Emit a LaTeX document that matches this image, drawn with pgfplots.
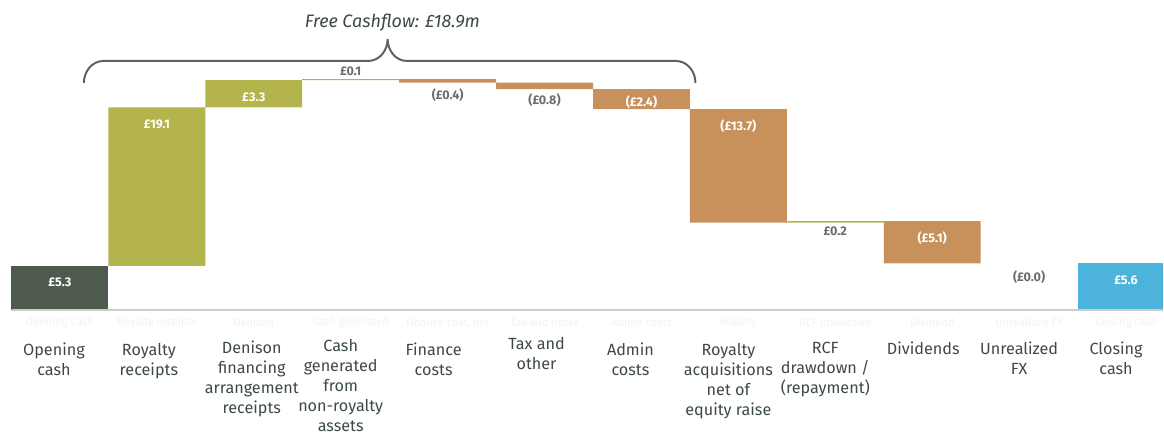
\documentclass[border=0pt]{standalone}
\usepackage{pgfplots}
\pgfplotsset{compat=1.18}
\usepackage{pgfplotstable}
\usepackage{fontspec}
\setmainfont{Fira Sans}
\definecolor{darkc}{HTML}{4F5A4F}
\definecolor{olivec}{HTML}{B4B44C}
\definecolor{orangec}{HTML}{C8915B}
\definecolor{bluec}{HTML}{4BB3DC}
\definecolor{labc}{HTML}{3D4A42}
\definecolor{valc}{HTML}{6A6E6A}
\definecolor{bracec}{HTML}{5A655A}

\tikzset{
  cat/.style={anchor=north, align=center, inner sep=0pt, text=labc, font=\fontsize{8.1}{10}\selectfont},
  wv/.style={text=white, inner sep=0pt, font=\fontsize{6.3}{7}\selectfont\bfseries},
  gv/.style={text=valc, inner sep=0pt, font=\fontsize{6.3}{7}\selectfont\bfseries},
  fd/.style={text=black!5, inner sep=0pt, font=\fontsize{5.5}{6}\selectfont},
}

\pgfplotstableread{
x base dark olive orange blue
0 0    5.3 0    0    0
1 5.3  0   19.1 0    0
2 24.4 0   3.3  0    0
3 27.7 0   0.1  0    0
4 27.4 0   0    0.4  0
5 26.6 0   0    0.8  0
6 24.2 0   0    2.4  0
7 10.5 0   0    13.7 0
8 10.5 0   0.2  0    0
9 5.6  0   0    5.1  0
10 5.6 0   0    0    0
11 0   0   0    0    5.6
}\wf

\begin{document}
\begin{tikzpicture}
\begin{axis}[
  x=48.5pt, y=4.15pt,
  xmin=-0.61856, xmax=11.38144,
  ymin=-14.9398, ymax=37.3494,
  hide axis,
  clip mode=individual,
  ybar stacked, bar width=1,
  every axis plot/.append style={draw=none},
]
\path (axis cs:-0.61856,-14.9398) rectangle (axis cs:11.38144,37.3494);
\draw[line width=1pt, black!20] (axis cs:-0.495,0) -- (axis cs:11.38144,0);

\addplot[fill=none, draw=none] table[x=x, y=base] {\wf};
\addplot[fill=darkc] table[x=x, y=dark] {\wf};
\addplot[fill=olivec] table[x=x, y=olive] {\wf};
\addplot[fill=orangec] table[x=x, y=orange] {\wf};
\addplot[fill=bluec] table[x=x, y=blue] {\wf};

% anchor points for white labels
\coordinate (w0) at (axis cs:0,3.37);
\coordinate (w1) at (axis cs:1,22.4);
\coordinate (w2) at (axis cs:2,25.66);
\coordinate (w6) at (axis cs:6,25.06);
\coordinate (w7) at (axis cs:7,22.17);
\coordinate (w9) at (axis cs:9,8.67);
\coordinate (w11) at (axis cs:11,3.61);

% grey value labels
\node[gv] at (axis cs:3,28.8) {£0.1};
\node[gv] at (axis cs:4,25.9) {(£0.4)};
\node[gv] at (axis cs:5,25.3) {(£0.8)};
\node[gv] at (axis cs:8,9.43) {£0.2};
\node[gv] at (axis cs:10,3.98) {(£0.0)};

% faded duplicate labels
\node[fd] at (axis cs:0,-1.57) {Opening Cash};
\node[fd] at (axis cs:1,-1.57) {Royalty receipts};
\node[fd] at (axis cs:2,-1.57) {Denison};
\node[fd] at (axis cs:3,-1.57) {Cash generated};
\node[fd] at (axis cs:4,-1.57) {Finance cost, net};
\node[fd] at (axis cs:5,-1.57) {Tax and other};
\node[fd] at (axis cs:6,-1.57) {Admin costs};
\node[fd] at (axis cs:7,-1.57) {Royalty};
\node[fd] at (axis cs:8,-1.57) {RCF drawdown};
\node[fd] at (axis cs:9,-1.57) {Dividend};
\node[fd] at (axis cs:10,-1.57) {Unrealised FX};
\node[fd] at (axis cs:11,-1.57) {Closing cash};

% category labels
\node[cat] at (axis cs:-0.0619,-3.98) {Opening\\cash};
\node[cat] at (axis cs:0.9175,-3.98) {Royalty\\receipts};
\node[cat] at (axis cs:1.9794,-3.70) {Denison\\financing\\arrangement\\receipts};
\node[cat] at (axis cs:2.8969,-3.49) {Cash\\generated\\from\\non-royalty\\assets};
\node[cat] at (axis cs:3.8557,-3.98) {Finance\\costs};
\node[cat] at (axis cs:4.9175,-3.25) {Tax and\\other};
\node[cat] at (axis cs:5.8866,-3.98) {Admin\\costs};
\node[cat] at (axis cs:6.8969,-3.98) {Royalty\\acquisitions\\net of\\equity raise};
\node[cat] at (axis cs:7.8969,-3.86) {RCF\\drawdown /\\(repayment)};
\node[cat] at (axis cs:8.9072,-3.86) {Dividends};
\node[cat] at (axis cs:9.8969,-3.86) {Unrealized\\FX};
\node[cat] at (axis cs:10.8969,-3.86) {Closing\\cash};

% brace
\draw[bracec, line width=1pt]
  (axis cs:0.247,27.35) to[out=90,in=180] (axis cs:0.45,30.0)
  -- (axis cs:3.18,30.0) to[out=0,in=-90] (axis cs:3.381,32.65)
  to[out=-90,in=180] (axis cs:3.58,30.0)
  -- (axis cs:6.354,30.0) to[out=0,in=90] (axis cs:6.557,27.35);
\node[text=labc, font=\fontsize{9}{10}\selectfont\itshape] at (axis cs:3.43,34.6) {Free Cashflow: £18.9m};
\end{axis}
\node[wv] at (w0) {£5.3};
\node[wv] at (w1) {£19.1};
\node[wv] at (w2) {£3.3};
\node[wv] at (w6) {(£2.4)};
\node[wv] at (w7) {(£13.7)};
\node[wv] at (w9) {(£5.1)};
\node[wv] at (w11) {£5.6};
\end{tikzpicture}
\end{document}
